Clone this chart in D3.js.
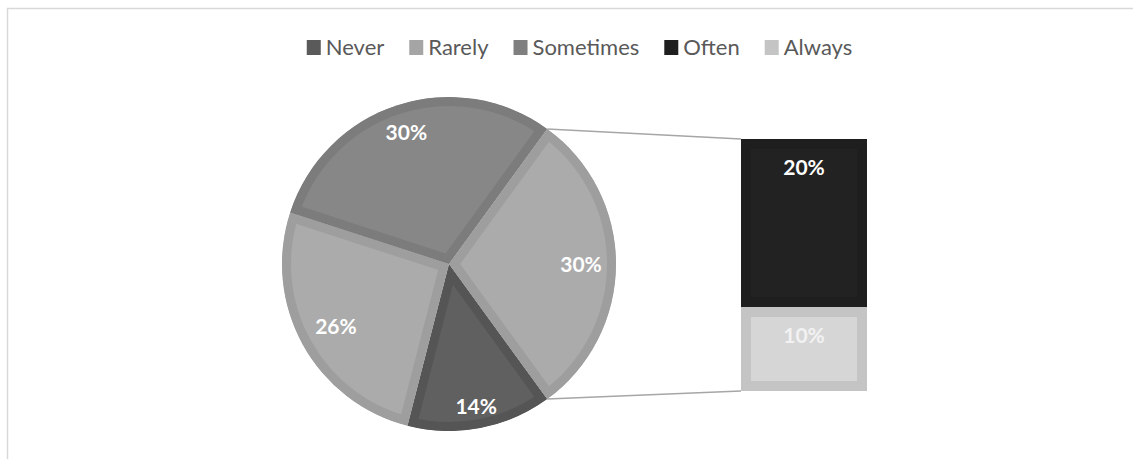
<!DOCTYPE html>
<html>
<head>
<meta charset="utf-8">
<script src="https://cdn.jsdelivr.net/npm/d3@7/dist/d3.min.js"></script>
<style>
  html, body { margin: 0; padding: 0; background: #fff; }
  svg { display: block; }
  text { font-family: Lato, "Open Sans", sans-serif; }
</style>
</head>
<body>
<svg id="chart" width="1133" height="459"></svg>
<script>
// Survey answer shares (percent)
const categories = ["Never", "Rarely", "Sometimes", "Often", "Always"];
const values = [14, 26, 30, 20, 10];
// Answers split off from the pie into the secondary bar
const barCategories = ["Often", "Always"];
const otherLabel = "Other";

// Fill colours: inner fill and darker outline band per category
const fills = {
  Never: "#606060", Rarely: "#ababab", Sometimes: "#878787",
  Often: "#222222", Always: "#d6d6d6", Other: "#ababab"
};
const outlines = {
  Never: "#555555", Rarely: "#9e9e9e", Sometimes: "#7c7c7c",
  Often: "#1e1e1e", Always: "#c4c4c4", Other: "#9e9e9e"
};
const legendSwatch = {
  Never: "#5a5a5a", Rarely: "#a5a5a5", Sometimes: "#7f7f7f",
  Often: "#1f1f1f", Always: "#c4c4c4"
};

const svg = d3.select("#chart");
const W = 1133, H = 459;

// chart area outline
svg.append("rect")
  .attr("x", 7.5).attr("y", 8.5)
  .attr("width", W + 40).attr("height", H + 40)
  .attr("fill", "none").attr("stroke", "#d9d9d9").attr("stroke-width", 1.5);

// ---------- pie ----------
const cx = 449, cy = 264, R = 167, band = 9;
const pieCats = categories.filter(c => !barCategories.includes(c));
const otherValue = d3.sum(barCategories.map(c => values[categories.indexOf(c)]));
const pieData = pieCats.map(c => ({ name: c, value: values[categories.indexOf(c)] }))
  .concat([{ name: otherLabel, value: otherValue }]);

// "Other" slice is centred on the right-hand side (90deg)
const otherSpan = otherValue / d3.sum(pieData, d => d.value) * 2 * Math.PI;
const start = Math.PI / 2 + otherSpan / 2;
const pie = d3.pie().value(d => d.value).sort(null)
  .startAngle(start).endAngle(start + 2 * Math.PI);
const arcs = pie(pieData);
const arc = d3.arc().innerRadius(0).outerRadius(R);

const defs = svg.append("defs");
const gPie = svg.append("g").attr("transform", `translate(${cx},${cy})`);

// each slice: fill plus an outline band kept inside the slice by clipping
arcs.forEach((a, i) => {
  const id = "slice-clip-" + i;
  defs.append("clipPath").attr("id", id)
    .append("path").attr("d", arc(a));
  gPie.append("path")
    .attr("d", arc(a))
    .attr("fill", fills[a.data.name])
    .attr("stroke", outlines[a.data.name])
    .attr("stroke-width", band * 2)
    .attr("stroke-linejoin", "miter")
    .attr("clip-path", `url(#${id})`);
});

// label distance from centre for each slice (inside end placement)
const labelRadius = { Never: 145, Rarely: 129, Sometimes: 138, Other: 132 };
arcs.forEach(a => {
  const mid = (a.startAngle + a.endAngle) / 2;
  const r = labelRadius[a.data.name];
  gPie.append("text")
    .attr("x", r * Math.sin(mid))
    .attr("y", -r * Math.cos(mid))
    .attr("text-anchor", "middle")
    .attr("dy", "0.36em")
    .attr("font-size", 21)
    .attr("font-weight", 700)
    .attr("fill", "#ffffff")
    .text(a.data.value + "%");
});

// ---------- secondary bar ----------
const barX = 741, barW = 126, barBand = 10;
const yBar = d3.scaleLinear().domain([0, otherValue]).range([391, 139]);
let acc = 0;
const barSegs = barCategories.slice().reverse().map(c => {
  const v = values[categories.indexOf(c)];
  const seg = { name: c, value: v, y0: acc, y1: acc + v };
  acc += v;
  return seg;
});

const gBar = svg.append("g");
barSegs.forEach(s => {
  const top = yBar(s.y1), bot = yBar(s.y0);
  gBar.append("rect")
    .attr("x", barX).attr("y", top)
    .attr("width", barW).attr("height", bot - top)
    .attr("fill", outlines[s.name]);
  gBar.append("rect")
    .attr("x", barX + barBand).attr("y", top + barBand)
    .attr("width", barW - 2 * barBand).attr("height", bot - top - 2 * barBand)
    .attr("fill", fills[s.name]);
  gBar.append("text")
    .attr("x", barX + barW / 2)
    .attr("y", top + 28)
    .attr("dy", "0.36em")
    .attr("text-anchor", "middle")
    .attr("font-size", 21)
    .attr("font-weight", 700)
    .attr("fill", s.name === "Always" ? "#f2f2f2" : "#ffffff")
    .text(s.value + "%");
});

// ---------- connector lines from the "Other" slice to the bar ----------
const otherArc = arcs.find(a => a.data.name === otherLabel);
const p1 = [cx + R * Math.sin(otherArc.startAngle), cy - R * Math.cos(otherArc.startAngle)];
const p2 = [cx + R * Math.sin(otherArc.endAngle), cy - R * Math.cos(otherArc.endAngle)];
svg.append("line")
  .attr("x1", p1[0]).attr("y1", p1[1])
  .attr("x2", barX).attr("y2", yBar(otherValue))
  .attr("stroke", "#a6a6a6").attr("stroke-width", 1.5);
svg.append("line")
  .attr("x1", p2[0]).attr("y1", p2[1])
  .attr("x2", barX).attr("y2", yBar(0))
  .attr("stroke", "#a6a6a6").attr("stroke-width", 1.5);

// ---------- legend ----------
const legend = svg.append("g");
const sw = 14, swGap = 5, itemGap = 25, legendBase = 55;
let lx = 0;
categories.forEach(c => {
  const item = legend.append("g").attr("transform", `translate(${lx},0)`);
  item.append("rect")
    .attr("x", 0).attr("y", legendBase - 15)
    .attr("width", sw).attr("height", sw + 1)
    .attr("fill", legendSwatch[c]);
  const t = item.append("text")
    .attr("x", sw + swGap).attr("y", legendBase)
    .attr("font-size", 22)
    .attr("fill", "#595959")
    .text(c);
  lx += sw + swGap + t.node().getComputedTextLength() + itemGap;
});
const legendWidth = lx - itemGap;
legend.attr("transform", `translate(${579.5 - legendWidth / 2},0)`);
</script>
</body>
</html>
